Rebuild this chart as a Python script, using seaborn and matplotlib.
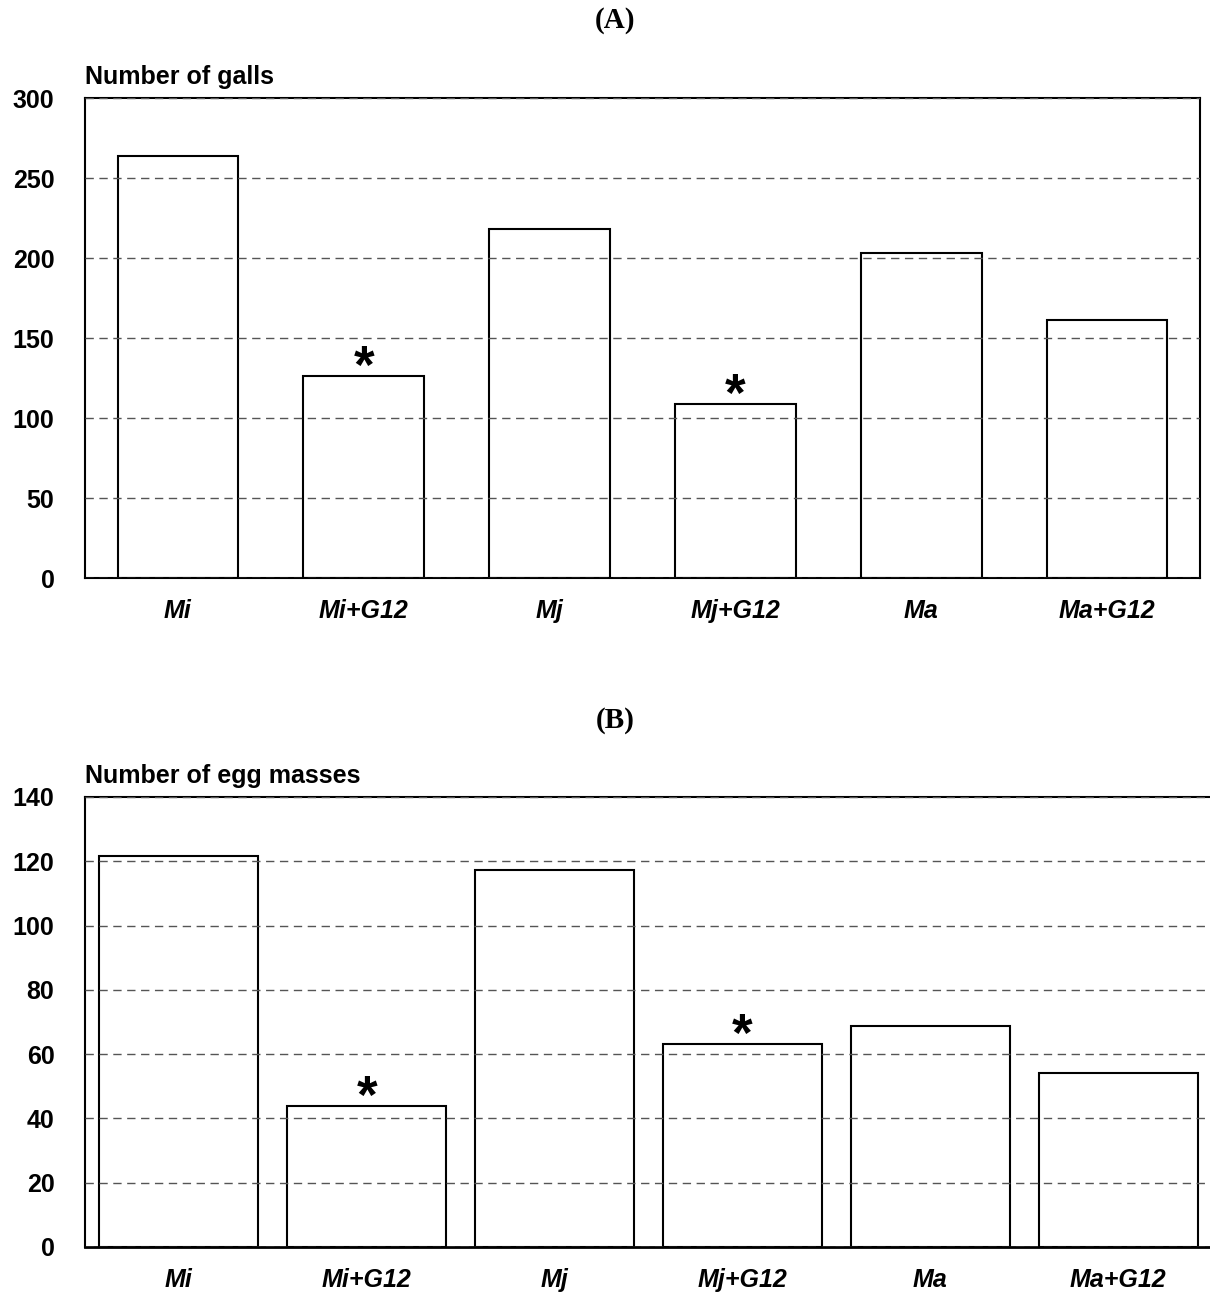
import matplotlib
matplotlib.use("Agg")
import matplotlib.pyplot as plt
import seaborn as sns

sns.set_style("white")
plt.rcParams['font.family'] = ['Liberation Sans', 'DejaVu Sans']
plt.rcParams['text.color'] = 'black'
plt.rcParams['xtick.color'] = 'black'
plt.rcParams['ytick.color'] = 'black'

# data
categories = ["Mi", "Mi+G12", "Mj", "Mj+G12", "Ma", "Ma+G12"]
galls = [264, 126, 218, 109, 203, 161]
egg_masses = [121.5, 44, 117.3, 63.3, 68.7, 54.2]
signif = ["Mi+G12", "Mj+G12"]

W, H = 1210, 1295
fig = plt.figure(figsize=(W / 100, H / 100), dpi=100)

def px_axes(left, top, right, bottom):
    return fig.add_axes([left / W, 1 - bottom / H, (right - left) / W, (bottom - top) / H])

def draw_panel(ax, vals, ymax, step, width, ylabel):
    sns.barplot(x=categories, y=vals, color="white", edgecolor="black",
                linewidth=1.5, width=width, saturation=1, ax=ax)
    ax.set_xlim(-0.5, 5.5)
    ax.set_ylim(0, ymax)
    ax.set_yticks(range(0, ymax + 1, step))
    # grid drawn over the bars, like in the original
    ax.yaxis.grid(True, linestyle=(0, (6, 4)), color="#555555", linewidth=1)
    ax.set_axisbelow(False)
    ax.tick_params(length=0, labelsize=18)
    ax.tick_params(axis="y", pad=22)
    ax.tick_params(axis="x", pad=15)
    for lab in ax.get_yticklabels():
        lab.set_fontweight("bold")
    for lab in ax.get_xticklabels():
        lab.set_fontweight("bold")
        lab.set_fontstyle("italic")
    for sp in ax.spines.values():
        sp.set_color("black")
        sp.set_linewidth(1.5)
    ax.set_xlabel("")
    ax.set_ylabel("")
    ax.text(0, 1.03, ylabel, transform=ax.transAxes, ha="left", va="baseline",
            fontsize=18, fontweight="bold")
    # significance stars
    for c in signif:
        i = categories.index(c)
        ax.annotate("*", (i, vals[i]), xytext=(0, -5), textcoords="offset points",
                    ha="center", va="baseline", fontsize=38, fontweight="bold")

ax1 = px_axes(85, 98, 1200, 578)
draw_panel(ax1, galls, 300, 50, 0.65, "Number of galls")

ax2 = px_axes(85, 797, 1212, 1247)
draw_panel(ax2, egg_masses, 140, 20, 0.846, "Number of egg masses")
ax2.spines["right"].set_visible(False)
ax2.spines["bottom"].set_linewidth(2)

fig.text(615 / W, 1 - 20 / H, "(A)", ha="center", va="center", fontsize=21,
         fontweight="bold", family="Liberation Serif")
fig.text(615 / W, 1 - 720 / H, "(B)", ha="center", va="center", fontsize=21,
         fontweight="bold", family="Liberation Serif")

fig.savefig("out.png", dpi=100)
